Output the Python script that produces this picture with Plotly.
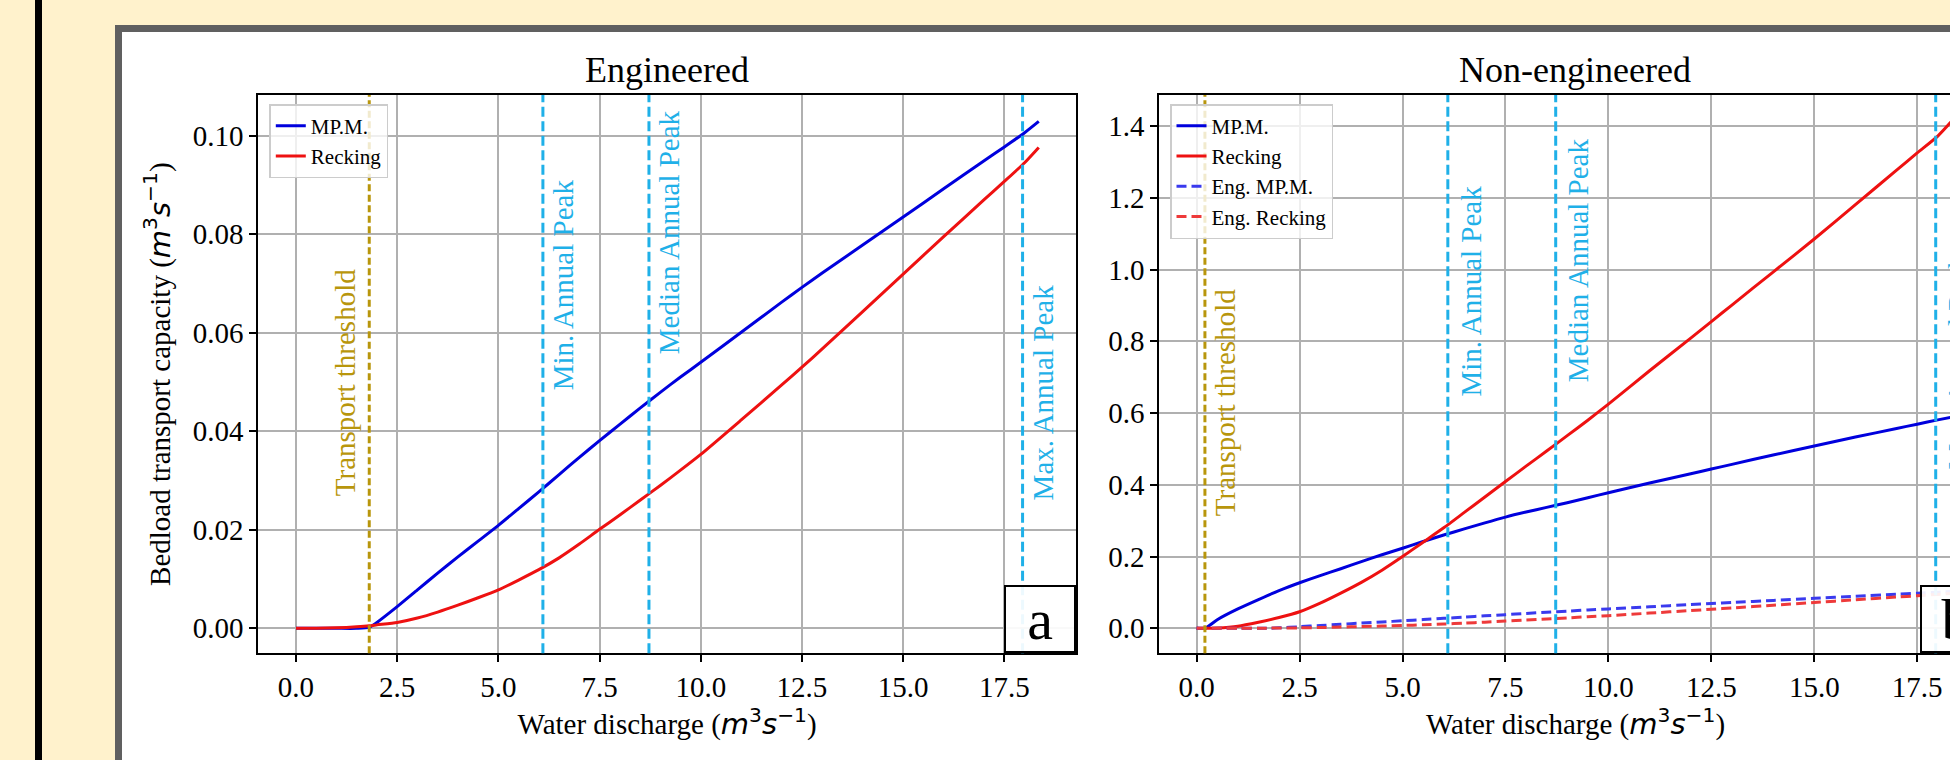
import plotly.graph_objects as go

# ---------------- data ----------------
# Engineered reach
q_eng = [0.0, 0.5, 1.0, 1.5, 1.81, 2.0, 2.5, 3.0, 3.5, 4.0, 4.5, 5.0, 5.5, 6.0, 6.5, 7.0, 7.5,
         8.0, 8.5, 9.0, 9.5, 10.0, 11.0, 12.0, 12.5, 13.0, 14.0, 15.0, 16.0, 17.0, 17.5, 18.0, 18.35]
mpm_eng = [0.0, 0.0, 0.0, 0.0, 0.0002, 0.0012, 0.0044, 0.0078, 0.0112, 0.0145, 0.0177, 0.0209,
           0.0243, 0.0277, 0.0312, 0.0347, 0.0381, 0.0414, 0.0447, 0.0479, 0.0510, 0.0540, 0.0601,
           0.0662, 0.0692, 0.0721, 0.0778, 0.0835, 0.0892, 0.0949, 0.0977, 0.1006, 0.1029]
reck_eng = [0.0, 0.0, 0.0001, 0.0003, 0.0005, 0.0007, 0.0012, 0.0021, 0.0033, 0.0047, 0.0062, 0.0078,
            0.0098, 0.0119, 0.0143, 0.0171, 0.0201, 0.0230, 0.0260, 0.0290, 0.0321, 0.0353, 0.0423,
            0.0494, 0.0530, 0.0567, 0.0643, 0.0719, 0.0795, 0.0870, 0.0907, 0.0945, 0.0976]

# Non-engineered reach
q_non = [0.0, 0.2, 0.5, 1.0, 1.5, 2.0, 2.5, 3.0, 3.5, 4.0, 4.5, 5.0, 5.5, 6.0, 6.5, 7.0, 7.5,
         8.0, 8.5, 9.0, 9.5, 10.0, 11.0, 12.0, 12.5, 13.0, 14.0, 15.0, 16.0, 17.0, 17.5, 18.0, 18.35]
mpm_non = [0.0, 0.0, 0.024, 0.054, 0.080, 0.105, 0.127, 0.147, 0.166, 0.186, 0.205, 0.223,
           0.242, 0.260, 0.277, 0.294, 0.310, 0.324, 0.337, 0.350, 0.364, 0.378, 0.405,
           0.431, 0.444, 0.457, 0.483, 0.508, 0.533, 0.557, 0.569, 0.581, 0.589]
reck_non = [0.0, 0.0, 0.001, 0.006, 0.017, 0.030, 0.046, 0.070, 0.098, 0.128, 0.162, 0.200,
            0.240, 0.280, 0.323, 0.366, 0.409, 0.452, 0.494, 0.537, 0.580, 0.625, 0.718,
            0.809, 0.855, 0.901, 0.993, 1.085, 1.181, 1.277, 1.325, 1.372, 1.415]

# reference discharges
threshold_eng = 1.81
threshold_non = 0.2
min_peak = 6.1
median_peak = 8.72
max_peak = 17.95

# label positions (y of label centre, in data units)
lab_y_eng = {"thr": 0.0498, "min": 0.0698, "med": 0.0804, "max": 0.0478}
lab_y_non = {"thr": 0.63, "min": 0.941, "med": 1.025, "max": 0.743}

x_ticks = [0.0, 2.5, 5.0, 7.5, 10.0, 12.5, 15.0, 17.5]

# ---------------- styling ----------------
W, H = 1950, 760
SERIF = "Liberation Serif, Times New Roman, Times, serif"
BLUE = "#0000dd"
RED = "#ee1111"
BLUE_D = "#3a3aee"
RED_D = "#ee3a3a"
CYAN = "#1fb0e8"
GOLD = "#b8960c"
CREAM = "#fff2cc"
FRAME = "#606060"


def px(x):
    return x / W


def py(y):
    return 1 - y / H


fig = go.Figure()


def curve(x, y, name, color, xa, ya, leg, dash=None):
    line = dict(color=color, width=3, shape="spline", smoothing=0.6)
    if dash:
        line["dash"] = dash
    fig.add_trace(go.Scatter(x=x, y=y, mode="lines", name=name, line=line,
                             xaxis=xa, yaxis=ya, legend=leg))


# left panel
curve(q_eng, mpm_eng, "MP.M.", BLUE, "x", "y", "legend")
curve(q_eng, reck_eng, "Recking", RED, "x", "y", "legend")
# right panel
curve(q_non, mpm_non, "MP.M.", BLUE, "x2", "y2", "legend2")
curve(q_non, reck_non, "Recking", RED, "x2", "y2", "legend2")
curve(q_eng, mpm_eng, "Eng. MP.M.", BLUE_D, "x2", "y2", "legend2", "10px,5px")
curve(q_eng, reck_eng, "Eng. Recking", RED_D, "x2", "y2", "legend2", "10px,5px")

shapes = [
    # page decoration
    dict(type="rect", xref="paper", yref="paper", x0=px(35), x1=px(42), y0=0, y1=1,
         fillcolor="black", line=dict(width=0), layer="below"),
    dict(type="rect", xref="paper", yref="paper", x0=px(118.5), x1=px(2100), y0=py(900), y1=py(28.5),
         fillcolor="white", line=dict(color=FRAME, width=7), layer="below"),
]


def vline(xval, xr, yr, color, dash):
    return dict(type="line", xref=xr, yref=yr + " domain", x0=xval, x1=xval, y0=0, y1=1,
                line=dict(color=color, width=3, dash=dash), layer="above")


shapes += [
    vline(threshold_eng, "x", "y", GOLD, "7px,3.5px"),
    vline(min_peak, "x", "y", CYAN, "10px,4.5px"),
    vline(median_peak, "x", "y", CYAN, "10px,4.5px"),
    vline(max_peak, "x", "y", CYAN, "10px,4.5px"),
    vline(threshold_non, "x2", "y2", GOLD, "7px,3.5px"),
    vline(min_peak, "x2", "y2", CYAN, "10px,4.5px"),
    vline(median_peak, "x2", "y2", CYAN, "10px,4.5px"),
    vline(max_peak, "x2", "y2", CYAN, "10px,4.5px"),
]

annotations = []


def vlabel(text, xval, yval, xr, yr, color, shift):
    annotations.append(dict(text=text, x=xval, y=yval, xref=xr, yref=yr, xshift=shift,
                            textangle=-90, showarrow=False, xanchor="center", yanchor="middle",
                            font=dict(family=SERIF, size=29, color=color)))


vlabel("Transport threshold", threshold_eng, lab_y_eng["thr"], "x", "y", GOLD, -24)
vlabel("Min. Annual Peak", min_peak, lab_y_eng["min"], "x", "y", CYAN, 21)
vlabel("Median Annual Peak", median_peak, lab_y_eng["med"], "x", "y", CYAN, 20)
vlabel("Max. Annual Peak", max_peak, lab_y_eng["max"], "x", "y", CYAN, 20)
vlabel("Transport threshold", threshold_non, lab_y_non["thr"], "x2", "y2", GOLD, 20)
vlabel("Min. Annual Peak", min_peak, lab_y_non["min"], "x2", "y2", CYAN, 23)
vlabel("Median Annual Peak", median_peak, lab_y_non["med"], "x2", "y2", CYAN, 22)
vlabel("Max. Annual Peak", max_peak, lab_y_non["max"], "x2", "y2", CYAN, 22)

# panel titles
annotations.append(dict(text="Engineered", x=px(667), y=py(70), xref="paper", yref="paper",
                        showarrow=False, xanchor="center", yanchor="middle",
                        font=dict(family=SERIF, size=36, color="black")))
annotations.append(dict(text="Non-engineered", x=px(1575), y=py(70), xref="paper", yref="paper",
                        showarrow=False, xanchor="center", yanchor="middle",
                        font=dict(family=SERIF, size=36, color="black")))

unit = ("<span style=\"font-family:'DejaVu Sans'\"><i>m</i><sup>3</sup>"
        "<i>s</i><sup>\u22121</sup></span>")

# right x title (panel extends past the picture edge)
annotations.append(dict(text="Water discharge (" + unit + ")", x=px(1575), y=py(722),
                        xref="paper", yref="paper", showarrow=False, xanchor="center",
                        yanchor="middle", font=dict(family=SERIF, size=29, color="black")))

# panel letters
annotations.append(dict(text="a", x=1, y=0, xref="x domain", yref="y domain", xanchor="right",
                        yanchor="bottom", showarrow=False, width=68, height=64, borderpad=0,
                        bordercolor="black", borderwidth=2, bgcolor="rgba(255,255,255,0.92)",
                        font=dict(family=SERIF, size=58, color="black")))
annotations.append(dict(text="b", x=px(1920), y=0, xref="paper", yref="y2 domain", xanchor="left",
                        yanchor="bottom", showarrow=False, width=68, height=64, borderpad=0,
                        bordercolor="black", borderwidth=2, bgcolor="rgba(255,255,255,0.92)",
                        font=dict(family=SERIF, size=58, color="black")))

axis_common = dict(showline=True, linecolor="black", linewidth=2, ticks="outside", ticklen=7,
                   tickwidth=2, tickcolor="black", showgrid=True, gridcolor="#b0b0b0",
                   gridwidth=1.5, zeroline=False, tickfont=dict(family=SERIF, size=29, color="black"))

fig.update_layout(
    width=W, height=H, autosize=False,
    margin=dict(l=0, r=0, t=0, b=0),
    paper_bgcolor=CREAM, plot_bgcolor="rgba(0,0,0,0)",
    font=dict(family=SERIF, color="black"),
    shapes=shapes, annotations=annotations,
    xaxis=dict(domain=[px(258.3), px(1076)], range=[-0.931, 19.27], tickvals=x_ticks,
               tickformat=".1f", mirror=True, anchor="y",
               title=dict(text="Water discharge (" + unit + ")", standoff=10,
                          font=dict(family=SERIF, size=29, color="black")),
               **axis_common),
    yaxis=dict(domain=[py(653.3), py(95)], range=[-0.00507, 0.10825], dtick=0.02, tick0=0,
               tickformat=".2f", mirror=True, anchor="x",
               title=dict(text="Bedload transport capacity (" + unit + ")", standoff=14,
                          font=dict(family=SERIF, size=29, color="black")),
               **axis_common),
    xaxis2=dict(domain=[px(1159.3), 1.0], range=[-0.908, 18.297], tickvals=x_ticks,
                tickformat=".1f", mirror=True, anchor="y2", **axis_common),
    yaxis2=dict(domain=[py(653.3), py(95)], range=[-0.0697, 1.4865], dtick=0.2, tick0=0,
                tickformat=".1f", mirror=False, anchor="x2", **axis_common),
    legend=dict(x=px(269.3), y=py(104), xanchor="left", yanchor="top",
                bgcolor="rgba(255,255,255,0.8)", bordercolor="#cccccc", borderwidth=1.5,
                font=dict(family=SERIF, size=21, color="black")),
    legend2=dict(x=px(1170), y=py(104), xanchor="left", yanchor="top",
                 bgcolor="rgba(255,255,255,0.8)", bordercolor="#cccccc", borderwidth=1.5,
                 font=dict(family=SERIF, size=21, color="black")),
)

fig.write_html("out.html")
